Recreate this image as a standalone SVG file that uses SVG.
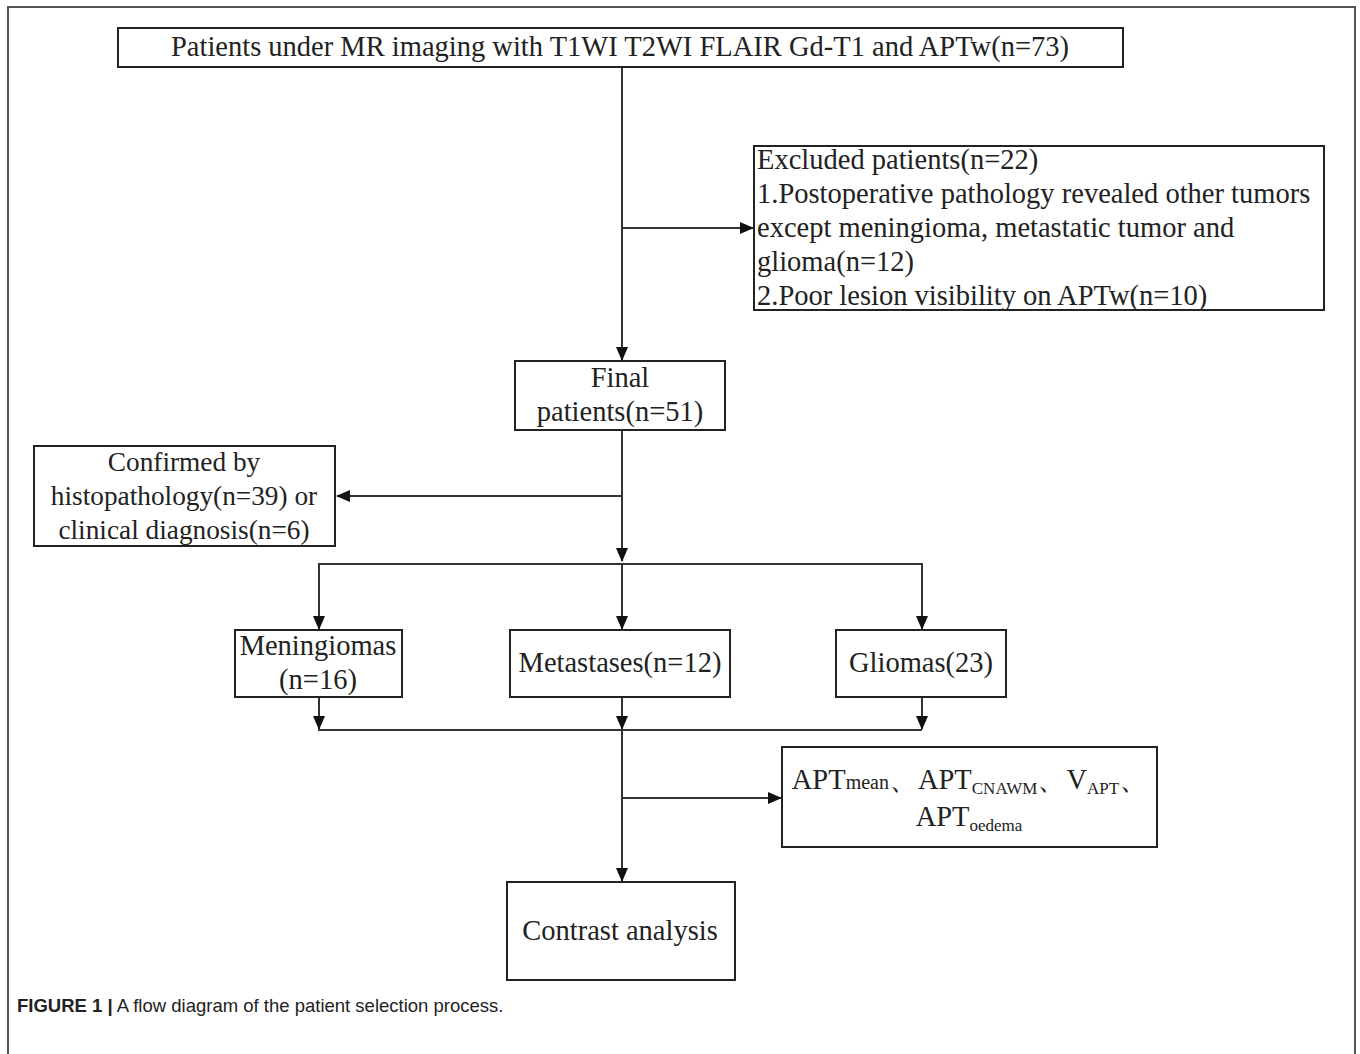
<svg xmlns="http://www.w3.org/2000/svg" width="1360" height="1054" viewBox="0 0 1360 1054">
<style>
.box{fill:#fff;stroke:#222;stroke-width:2}
.t{font-family:"Liberation Serif",serif;font-size:28.5px;fill:#222}
.s{font-size:27.3px}
.c{text-anchor:middle}
.ln{stroke:#333;stroke-width:2;fill:none}
.cap{font-family:"Liberation Sans",sans-serif;font-size:18.5px;fill:#222}
</style>
<defs>
<marker id="ah" markerWidth="14" markerHeight="12" refX="13" refY="6" orient="auto" markerUnits="userSpaceOnUse">
<path d="M0,0 L14,6 L0,12 z" fill="#111"/>
</marker>
</defs>
<rect width="1360" height="1054" fill="#fff"/>
<path d="M8,1054 V7 H1355 V1054" fill="none" stroke="#555" stroke-width="2"/>
<g id="connectors">
<line class="ln" x1="622" y1="67" x2="622" y2="360" marker-end="url(#ah)"/>
<line class="ln" x1="622" y1="228" x2="753" y2="228" marker-end="url(#ah)"/>
<line class="ln" x1="622" y1="430" x2="622" y2="561" marker-end="url(#ah)"/>
<line class="ln" x1="622" y1="496" x2="337" y2="496" marker-end="url(#ah)"/>
<polyline class="ln" points="319,629 319,564 922,564 922,629"/>
<line class="ln" x1="319" y1="600" x2="319" y2="629" marker-end="url(#ah)"/>
<line class="ln" x1="922" y1="600" x2="922" y2="629" marker-end="url(#ah)"/>
<line class="ln" x1="622" y1="564" x2="622" y2="629" marker-end="url(#ah)"/>
<line class="ln" x1="319" y1="697" x2="319" y2="729" marker-end="url(#ah)"/>
<line class="ln" x1="622" y1="697" x2="622" y2="729" marker-end="url(#ah)"/>
<line class="ln" x1="922" y1="697" x2="922" y2="729" marker-end="url(#ah)"/>
<line class="ln" x1="318" y1="730" x2="922" y2="730"/>
<line class="ln" x1="622" y1="730" x2="622" y2="881" marker-end="url(#ah)"/>
<line class="ln" x1="622" y1="798" x2="781" y2="798" marker-end="url(#ah)"/>
</g>
<g id="n-top">
<rect class="box" x="118" y="28" width="1005" height="39"/>
<text class="t c" x="620" y="56">Patients under MR imaging with T1WI T2WI FLAIR Gd-T1 and APTw(n=73)</text>
</g>
<g id="n-excluded">
<rect class="box" x="754" y="146" width="570" height="164"/>
<text class="t" x="757" y="169">Excluded patients(n=22)</text>
<text class="t" x="757" y="203">1.Postoperative pathology revealed other tumors</text>
<text class="t" x="757" y="237">except meningioma, metastatic tumor and</text>
<text class="t" x="757" y="271">glioma(n=12)</text>
<text class="t" x="757" y="305">2.Poor lesion visibility on APTw(n=10)</text>
</g>
<g id="n-final">
<rect class="box" x="515" y="361" width="210" height="69"/>
<text class="t c" x="620" y="387">Final</text>
<text class="t c" x="620" y="421">patients(n=51)</text>
</g>
<g id="n-confirmed">
<rect class="box" x="34" y="446" width="301" height="100"/>
<text class="t s c" x="184" y="471">Confirmed by</text>
<text class="t s c" x="184" y="505">histopathology(n=39) or</text>
<text class="t s c" x="184" y="539">clinical diagnosis(n=6)</text>
</g>
<g id="n-meningiomas">
<rect class="box" x="235" y="630" width="167" height="67"/>
<text class="t c" x="318" y="655">Meningiomas</text>
<text class="t c" x="318" y="689">(n=16)</text>
</g>
<g id="n-metastases">
<rect class="box" x="510" y="630" width="220" height="67"/>
<text class="t c" x="620" y="672">Metastases(n=12)</text>
</g>
<g id="n-gliomas">
<rect class="box" x="836" y="630" width="170" height="67"/>
<text class="t c" x="921" y="672">Gliomas(23)</text>
</g>
<g id="n-apt">
<rect class="box" x="782" y="747" width="375" height="100"/>
<text class="t c" x="970" y="789">APT<tspan font-size="20">mean</tspan>、APT<tspan font-size="17" dy="5">CNAWM</tspan><tspan dy="-5">、V</tspan><tspan font-size="17" dy="5">APT</tspan><tspan dy="-5">、</tspan></text>
<text class="t c" x="969" y="826">APT<tspan font-size="17" dy="5">oedema</tspan></text>
</g>
<g id="n-contrast">
<rect class="box" x="507" y="882" width="228" height="98"/>
<text class="t c" x="620" y="940">Contrast analysis</text>
</g>
<text class="cap" x="17" y="1012"><tspan font-weight="bold">FIGURE 1 |</tspan> A flow diagram of the patient selection process.</text>
</svg>
